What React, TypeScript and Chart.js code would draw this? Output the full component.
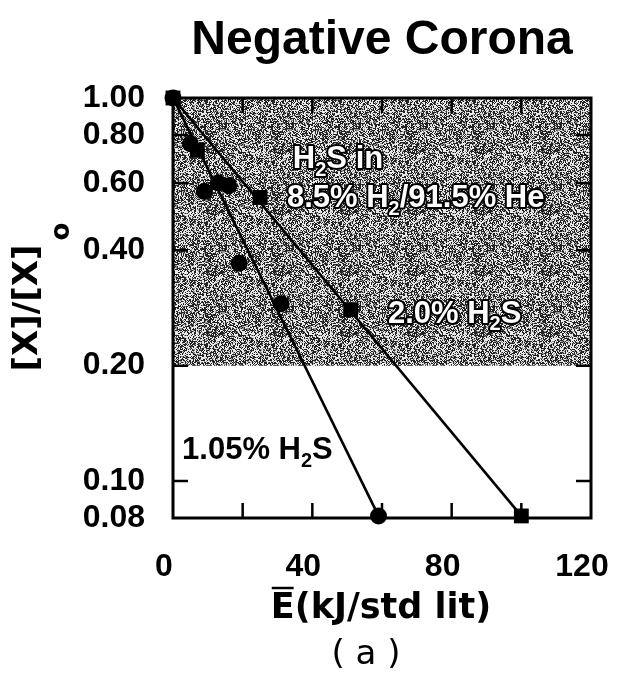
import React, { useEffect, useRef } from 'react';
import { Chart, registerables } from 'chart.js';

Chart.register(...registerables);

// ---- data ----
const CIRCLE_X = [0, 5, 9, 13, 16, 19, 31, 59];
const CIRCLE_Y = [1.0, 0.76, 0.57, 0.6, 0.59, 0.37, 0.29, 0.081];
const SQUARE_X = [0, 7, 25, 51, 100];
const SQUARE_Y = [1.0, 0.73, 0.55, 0.28, 0.081];
const FIT_CIRCLE_X = [0, 59];
const FIT_CIRCLE_Y = [1.0, 0.081];
const FIT_SQUARE_X = [0, 100];
const FIT_SQUARE_Y = [1.0, 0.081];

const X_MIN = 0;
const X_MAX = 120;
const Y_MIN = 0.08;
const Y_MAX = 1.0;
const X_TICKS = [0, 40, 80, 120];
const X_MINOR_TICKS = [20, 40, 60, 80, 100];
const Y_TICKS = [1.0, 0.8, 0.6, 0.4, 0.2, 0.1, 0.08];
const Y_TICK_LABELS = ['1.00', '0.80', '0.60', '0.40', '0.20', '0.10', '0.08'];
const Y_MINOR_TICKS = [0.8, 0.6, 0.4, 0.2, 0.1];
const SHADE_FROM = 1.0;
const SHADE_TO = 0.2;

const TITLE = 'Negative Corona';
const X_TITLE = 'E(kJ/std lit)';
const Y_TITLE_MAIN = '[X]/[X]';
const Y_TITLE_SUB = 'o';
const PANEL_LABEL = '( a )';

type Seg = [string, boolean];
const NOTE_H2S_IN: Seg[] = [['H', false], ['2', true], ['S in', false]];
const NOTE_MIX: Seg[] = [['8.5% H', false], ['2', true], ['/91.5% He', false]];
const NOTE_20: Seg[] = [['2.0% H', false], ['2', true], ['S', false]];
const NOTE_105: Seg[] = [['1.05% H', false], ['2', true], ['S', false]];
const NOTES: { segs: Seg[]; x: number; y: number; outline: boolean }[] = [
  { segs: NOTE_H2S_IN, x: 34.4, y: 0.656, outline: true },
  { segs: NOTE_MIX, x: 32.7, y: 0.519, outline: true },
  { segs: NOTE_20, x: 61.7, y: 0.2585, outline: true },
  { segs: NOTE_105, x: 2.6, y: 0.114, outline: false },
];

const SANS = "'Liberation Sans', Arial, Helvetica, sans-serif";
const WIDE = "'DejaVu Sans', 'Liberation Sans', sans-serif";

function hash(x: number, y: number): number {
  let h = (Math.imul(x, 374761393) + Math.imul(y, 668265263)) | 0;
  h = Math.imul(h ^ (h >>> 13), 1274126177);
  h = (h ^ (h >>> 16)) >>> 0;
  return h / 4294967296;
}

function makePattern(): CanvasPattern | string {
  const c = document.createElement('canvas');
  const w = 67;
  const hgt = 61;
  c.width = w;
  c.height = hgt;
  const ctx = c.getContext('2d');
  if (!ctx) return '#808080';
  const img = ctx.createImageData(w, hgt);
  for (let y = 0; y < hgt; y++) {
    for (let x = 0; x < w; x++) {
      const r = hash(x, y);
      const v = r < 0.46 ? 35 : r < 0.6 ? 145 : 232;
      const i = (y * w + x) * 4;
      img.data[i] = v;
      img.data[i + 1] = v;
      img.data[i + 2] = v;
      img.data[i + 3] = 255;
    }
  }
  ctx.putImageData(img, 0, 0);
  return ctx.createPattern(c, 'repeat') || '#808080';
}

function drawSegs(
  ctx: CanvasRenderingContext2D,
  segs: Seg[],
  x: number,
  y: number,
  size: number,
  outline: boolean
) {
  let cx = x;
  ctx.textAlign = 'left';
  ctx.textBaseline = 'alphabetic';
  ctx.lineJoin = 'round';
  for (const [t, sub] of segs) {
    const s = sub ? Math.round(size * 0.66) : size;
    ctx.font = `bold ${s}px ${SANS}`;
    const dy = sub ? size * 0.24 : 0;
    if (outline) {
      ctx.strokeStyle = '#000';
      ctx.lineWidth = 4;
      ctx.strokeText(t, cx, y + dy);
      ctx.fillStyle = '#fff';
    } else {
      ctx.fillStyle = '#000';
    }
    ctx.fillText(t, cx, y + dy);
    cx += ctx.measureText(t).width;
  }
}

const decorPlugin = {
  id: 'decor',
  afterDatasetsDraw(chart: any) {
    const { ctx, chartArea: a, scales } = chart;
    const xs = scales.x;
    const ys = scales.y;
    ctx.save();
    ctx.strokeStyle = '#000';
    ctx.lineWidth = 3;
    ctx.strokeRect(a.left, a.top, a.right - a.left, a.bottom - a.top);
    ctx.lineWidth = 2.5;
    const tl = 15;
    ctx.beginPath();
    for (const v of X_MINOR_TICKS) {
      const px = xs.getPixelForValue(v);
      ctx.moveTo(px, a.bottom);
      ctx.lineTo(px, a.bottom - tl);
      ctx.moveTo(px, a.top);
      ctx.lineTo(px, a.top + tl);
    }
    for (const v of Y_MINOR_TICKS) {
      const py = ys.getPixelForValue(v);
      ctx.moveTo(a.left, py);
      ctx.lineTo(a.left + tl, py);
      ctx.moveTo(a.right, py);
      ctx.lineTo(a.right - tl, py);
    }
    ctx.stroke();
    ctx.restore();
  },
  afterDraw(chart: any) {
    const { ctx, chartArea: a, scales } = chart;
    const xs = scales.x;
    const ys = scales.y;
    ctx.save();
    for (const n of NOTES) {
      drawSegs(ctx, n.segs, xs.getPixelForValue(n.x), ys.getPixelForValue(n.y), 31, n.outline);
    }
    // title
    ctx.fillStyle = '#000';
    ctx.textAlign = 'center';
    ctx.textBaseline = 'alphabetic';
    ctx.font = `bold 48px ${SANS}`;
    ctx.fillText(TITLE, (a.left + a.right) / 2, 54);

    // x title with overline on E
    ctx.font = `bold 35px ${WIDE}`;
    const xw = ctx.measureText(X_TITLE).width;
    const xcx = 381;
    const xbase = 618;
    ctx.textAlign = 'left';
    ctx.fillText(X_TITLE, xcx - xw / 2, xbase);
    const ew = ctx.measureText('E').width;
    ctx.strokeStyle = '#000';
    ctx.lineWidth = 2.5;
    ctx.beginPath();
    ctx.moveTo(xcx - xw / 2 + 1, xbase - 30);
    ctx.lineTo(xcx - xw / 2 + ew - 1, xbase - 30);
    ctx.stroke();

    // panel label
    ctx.font = `34px ${WIDE}`;
    ctx.textAlign = 'center';
    ctx.fillText(PANEL_LABEL, 366, 664);

    // y title rotated
    ctx.translate(37, 297);
    ctx.rotate(-Math.PI / 2);
    ctx.font = `bold 34px ${WIDE}`;
    const mw = ctx.measureText(Y_TITLE_MAIN).width;
    ctx.font = `bold 26px ${WIDE}`;
    const sw = ctx.measureText(Y_TITLE_SUB).width;
    const total = mw + sw + 4;
    ctx.textAlign = 'left';
    ctx.font = `bold 34px ${WIDE}`;
    ctx.fillText(Y_TITLE_MAIN, -total / 2, 0);
    ctx.font = `bold 26px ${WIDE}`;
    ctx.fillText(Y_TITLE_SUB, -total / 2 + mw + 4, 32);
    ctx.restore();
  },
};

export default function App() {
  const ref = useRef<HTMLCanvasElement | null>(null);
  useEffect(() => {
    if (!ref.current) return;
    const pattern = makePattern();
    const pts = (xs: number[], ys: number[]) => xs.map((x, i) => ({ x, y: ys[i] }));
    const chart = new Chart(ref.current, {
      type: 'scatter',
      data: {
        datasets: [
          {
            label: 'shade',
            data: [
              { x: X_MIN, y: SHADE_FROM },
              { x: X_MAX, y: SHADE_FROM },
            ],
            showLine: true,
            fill: { value: SHADE_TO },
            backgroundColor: pattern as any,
            borderWidth: 0,
            pointRadius: 0,
            order: 10,
          } as any,
          {
            label: 'fit 1.05%',
            data: pts(FIT_CIRCLE_X, FIT_CIRCLE_Y),
            showLine: true,
            borderColor: '#000',
            borderWidth: 2.6,
            pointRadius: 0,
            order: 5,
            clip: false,
          } as any,
          {
            label: 'fit 2.0%',
            data: pts(FIT_SQUARE_X, FIT_SQUARE_Y),
            showLine: true,
            borderColor: '#000',
            borderWidth: 2.6,
            pointRadius: 0,
            order: 5,
            clip: false,
          } as any,
          {
            label: '1.05% H2S',
            data: pts(CIRCLE_X, CIRCLE_Y),
            pointStyle: 'circle',
            pointRadius: 8.5,
            backgroundColor: '#000',
            borderColor: '#000',
            borderWidth: 0,
            order: 2,
            clip: false,
          } as any,
          {
            label: '2.0% H2S',
            data: pts(SQUARE_X, SQUARE_Y),
            pointStyle: 'rect',
            pointRadius: 10.5,
            backgroundColor: '#000',
            borderColor: '#000',
            borderWidth: 0,
            order: 1,
            clip: false,
          } as any,
        ],
      },
      options: {
        responsive: false,
        animation: false,
        layout: { padding: { left: 0, top: 98, right: 31, bottom: 0 } },
        plugins: {
          legend: { display: false },
          title: { display: false },
          tooltip: { enabled: false },
        },
        scales: {
          x: {
            type: 'linear',
            min: X_MIN,
            max: X_MAX,
            afterBuildTicks: (s: any) => {
              s.ticks = X_TICKS.map((v) => ({ value: v }));
            },
            afterFit: (s: any) => {
              s.height = 161;
              s.paddingLeft = 0;
              s.paddingRight = 0;
            },
            ticks: {
              color: '#000',
              font: { family: SANS, weight: 'bold', size: 32 },
              padding: 22,
              labelOffset: -9,
              maxRotation: 0,
              autoSkip: false,
              callback: (v: any) => String(v),
            },
            grid: { display: false },
            border: { display: false },
          },
          y: {
            type: 'logarithmic',
            min: Y_MIN,
            max: Y_MAX,
            afterBuildTicks: (s: any) => {
              s.ticks = Y_TICKS.map((v) => ({ value: v }));
            },
            afterFit: (s: any) => {
              s.width = 173;
              s.paddingTop = 0;
              s.paddingBottom = 0;
            },
            ticks: {
              color: '#000',
              font: { family: SANS, weight: 'bold', size: 32 },
              padding: 20,
              autoSkip: false,
              callback: (_v: any, i: number) => Y_TICK_LABELS[i],
            },
            grid: { display: false },
            border: { display: false },
          },
        },
      } as any,
      plugins: [decorPlugin],
    });
    return () => chart.destroy();
  }, []);
  return (
    <div style={{ position: 'absolute', left: 0, top: 0, width: 622, height: 679, background: '#fff' }}>
      <canvas ref={ref} width={622} height={679} style={{ display: 'block' }} />
    </div>
  );
}
